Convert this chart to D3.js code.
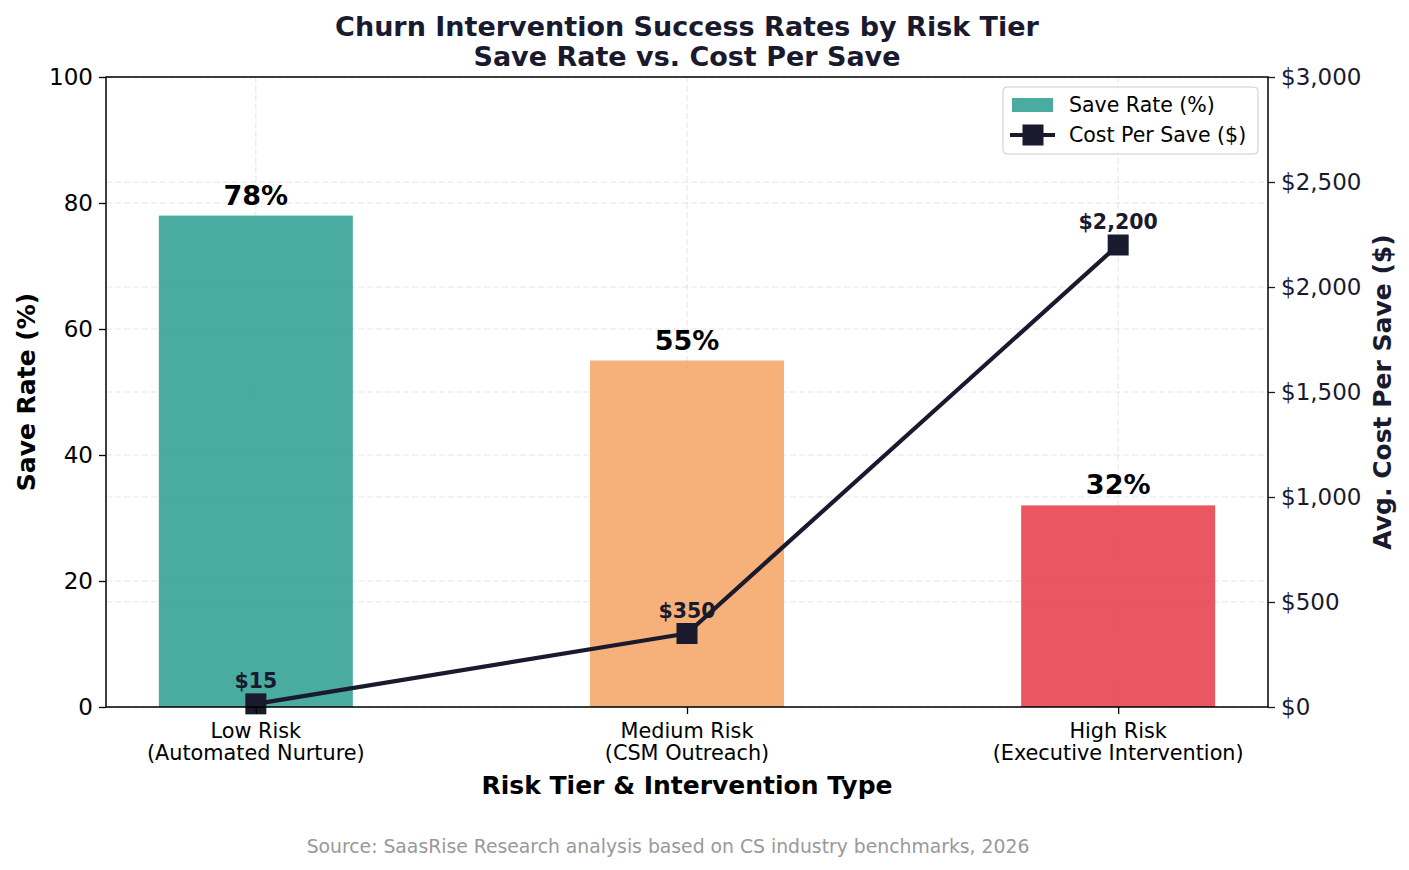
<!DOCTYPE html>
<html>
<head>
<meta charset="utf-8">
<script src="https://cdn.jsdelivr.net/npm/d3@7"></script>
<style>
  body { margin: 0; background: #fff; }
  svg, svg text { font-family: "DejaVu Sans", sans-serif; }
</style>
</head>
<body>
<div id="chart-area"></div>
<script>
// data
var tiers = ["Low Risk", "Medium Risk", "High Risk"];
var interventions = ["(Automated Nurture)", "(CSM Outreach)", "(Executive Intervention)"];
var saveRate = [78, 55, 32];
var costPerSave = [15, 350, 2200];
var barColors = ["#2a9d8f", "#f4a261", "#e63946"];
var leftTicks = [0, 20, 40, 60, 80, 100];
var rightTicks = [0, 500, 1000, 1500, 2000, 2500, 3000];

var W = 1409, H = 870;
var margin = { left: 106, right: 141, top: 77, bottom: 163 };
var width = W - margin.left - margin.right,
    height = H - margin.top - margin.bottom;
var navy = "#1a1a2e";

var svg = d3.select("#chart-area").append("svg")
    .attr("width", W).attr("height", H);

var g = svg.append("g")
    .attr("transform", "translate(" + margin.left + "," + margin.top + ")");

// x as linear over category index (matplotlib-like margins)
var x = d3.scaleLinear().domain([-0.3475, 2.3475]).range([0, width]);
var barW = 0.45;
var y = d3.scaleLinear().domain([0, 100]).range([height, 0]);
var y2 = d3.scaleLinear().domain([0, 3000]).range([height, 0]);

// grid
var grid = g.append("g").attr("class", "grid");
grid.selectAll(".gl").data(leftTicks).enter().append("line")
    .attr("x1", 0).attr("x2", width)
    .attr("y1", function(d){ return y(d); }).attr("y2", function(d){ return y(d); })
    .attr("stroke", "#cccccc").attr("stroke-opacity", 0.5)
    .attr("stroke-dasharray", "6,3");
grid.selectAll(".gr").data(rightTicks).enter().append("line")
    .attr("x1", 0).attr("x2", width)
    .attr("y1", function(d){ return y2(d); }).attr("y2", function(d){ return y2(d); })
    .attr("stroke", "#cccccc").attr("stroke-opacity", 0.5)
    .attr("stroke-dasharray", "6,3");
grid.selectAll(".gv").data(tiers).enter().append("line")
    .attr("x1", function(d, i){ return x(i); }).attr("x2", function(d, i){ return x(i); })
    .attr("y1", 0).attr("y2", height)
    .attr("stroke", "#cccccc").attr("stroke-opacity", 0.5)
    .attr("stroke-dasharray", "6,3");

// bars
g.selectAll("rect.bar").data(saveRate).enter().append("rect")
    .attr("class", "bar")
    .attr("x", function(d, i){ return x(i - barW / 2); })
    .attr("width", x(barW) - x(0))
    .attr("y", function(d){ return y(d); })
    .attr("height", function(d){ return height - y(d); })
    .attr("fill", function(d, i){ return barColors[i]; })
    .attr("fill-opacity", 0.85);

// bar labels
g.selectAll("text.barlab").data(saveRate).enter().append("text")
    .attr("x", function(d, i){ return x(i); })
    .attr("y", function(d){ return y(d) - 11; })
    .attr("text-anchor", "middle")
    .attr("font-size", "27px").attr("font-weight", "bold")
    .attr("fill", "#000")
    .text(function(d){ return d + "%"; });

// cost line
var line = d3.line()
    .x(function(d, i){ return x(i); })
    .y(function(d){ return y2(d); });
g.append("path").datum(costPerSave)
    .attr("d", line)
    .attr("fill", "none").attr("stroke", navy)
    .attr("stroke-width", 4.2).attr("stroke-linejoin", "round");
var ms = 21;
g.selectAll("rect.mk").data(costPerSave).enter().append("rect")
    .attr("class", "mk")
    .attr("x", function(d, i){ return x(i) - ms / 2; })
    .attr("y", function(d){ return y2(d) - ms / 2; })
    .attr("width", ms).attr("height", ms)
    .attr("fill", navy);
g.selectAll("text.costlab").data(costPerSave).enter().append("text")
    .attr("x", function(d, i){ return x(i); })
    .attr("y", function(d){ return y2(d) - 16; })
    .attr("text-anchor", "middle")
    .attr("font-size", "20.5px").attr("font-weight", "bold")
    .attr("fill", navy)
    .text(function(d){ return "$" + d3.format(",")(d); });

// axes
var yAxis = g.append("g")
    .call(d3.axisLeft(y).tickValues(leftTicks).tickSizeOuter(0).tickSize(7).tickPadding(6));
yAxis.selectAll("text").attr("font-size", "23px").attr("fill", "#000")
    .attr("font-family", "DejaVu Sans");
var y2Axis = g.append("g").attr("transform", "translate(" + width + ",0)")
    .call(d3.axisRight(y2).tickValues(rightTicks).tickSizeOuter(0).tickSize(7).tickPadding(6)
        .tickFormat(function(d){ return "$" + d3.format(",")(d); }));
y2Axis.selectAll("text").attr("font-size", "23px").attr("fill", navy)
    .attr("font-family", "DejaVu Sans");
y2Axis.selectAll("line").attr("stroke", navy);
var xAxis = g.append("g").attr("transform", "translate(0," + height + ")")
    .call(d3.axisBottom(x).tickValues([0, 1, 2]).tickSizeOuter(0).tickSize(7).tickFormat(""));
[yAxis, y2Axis, xAxis].forEach(function(a){ a.select(".domain").remove(); });
[yAxis, y2Axis, xAxis].forEach(function(a){ a.selectAll("line").attr("stroke-width", 1.3); });

xAxis.selectAll(".catlab").data(tiers).enter().append("text")
    .attr("x", function(d, i){ return x(i); })
    .attr("y", 31)
    .attr("text-anchor", "middle")
    .attr("font-size", "20.8px").attr("fill", "#000")
    .attr("font-family", "DejaVu Sans")
    .each(function(d, i){
        d3.select(this).append("tspan").attr("x", x(i)).text(d);
        d3.select(this).append("tspan").attr("x", x(i)).attr("dy", 22).text(interventions[i]);
    });

// frame
g.append("rect").attr("width", width).attr("height", height)
    .attr("fill", "none").attr("stroke", "#000").attr("stroke-width", 1.5);

// axis labels
g.append("text")
    .attr("transform", "rotate(-90)")
    .attr("x", -height / 2).attr("y", -71)
    .attr("text-anchor", "middle")
    .attr("font-size", "25px").attr("font-weight", "bold").attr("fill", "#000")
    .text("Save Rate (%)");
g.append("text")
    .attr("transform", "rotate(-90)")
    .attr("x", -height / 2).attr("y", width + 123)
    .attr("text-anchor", "middle")
    .attr("font-size", "25px").attr("font-weight", "bold").attr("fill", navy)
    .text("Avg. Cost Per Save ($)");
g.append("text")
    .attr("x", width / 2).attr("y", height + 87)
    .attr("text-anchor", "middle")
    .attr("font-size", "25px").attr("font-weight", "bold").attr("fill", "#000")
    .text("Risk Tier & Intervention Type");

// title
svg.append("text").attr("x", width / 2 + margin.left).attr("y", 36)
    .attr("text-anchor", "middle")
    .attr("font-size", "27px").attr("font-weight", "bold").attr("fill", navy)
    .text("Churn Intervention Success Rates by Risk Tier");
svg.append("text").attr("x", width / 2 + margin.left).attr("y", 66)
    .attr("text-anchor", "middle")
    .attr("font-size", "27px").attr("font-weight", "bold").attr("fill", navy)
    .text("Save Rate vs. Cost Per Save");

// source
svg.append("text").attr("x", 668).attr("y", 853)
    .attr("text-anchor", "middle")
    .attr("font-size", "18.8px").attr("fill", "#999999")
    .text("Source: SaasRise Research analysis based on CS industry benchmarks, 2026");

// legend
var lg = g.append("g").attr("transform", "translate(" + (width - 265) + ",10)");
lg.append("rect").attr("width", 255).attr("height", 67).attr("rx", 4)
    .attr("fill", "#fff").attr("fill-opacity", 0.8)
    .attr("stroke", "#cccccc");
lg.append("rect").attr("x", 9).attr("y", 11).attr("width", 41).attr("height", 14)
    .attr("fill", barColors[0]).attr("fill-opacity", 0.85);
lg.append("line").attr("x1", 7).attr("x2", 52).attr("y1", 48).attr("y2", 48)
    .attr("stroke", navy).attr("stroke-width", 4);
lg.append("rect").attr("x", 19.5).attr("y", 37.5).attr("width", 21).attr("height", 21)
    .attr("fill", navy);
lg.append("text").attr("x", 66).attr("y", 25).attr("font-size", "20.5px").attr("fill", "#000")
    .text("Save Rate (%)");
lg.append("text").attr("x", 66).attr("y", 55).attr("font-size", "20.5px").attr("fill", "#000")
    .text("Cost Per Save ($)");
</script>
</body>
</html>
